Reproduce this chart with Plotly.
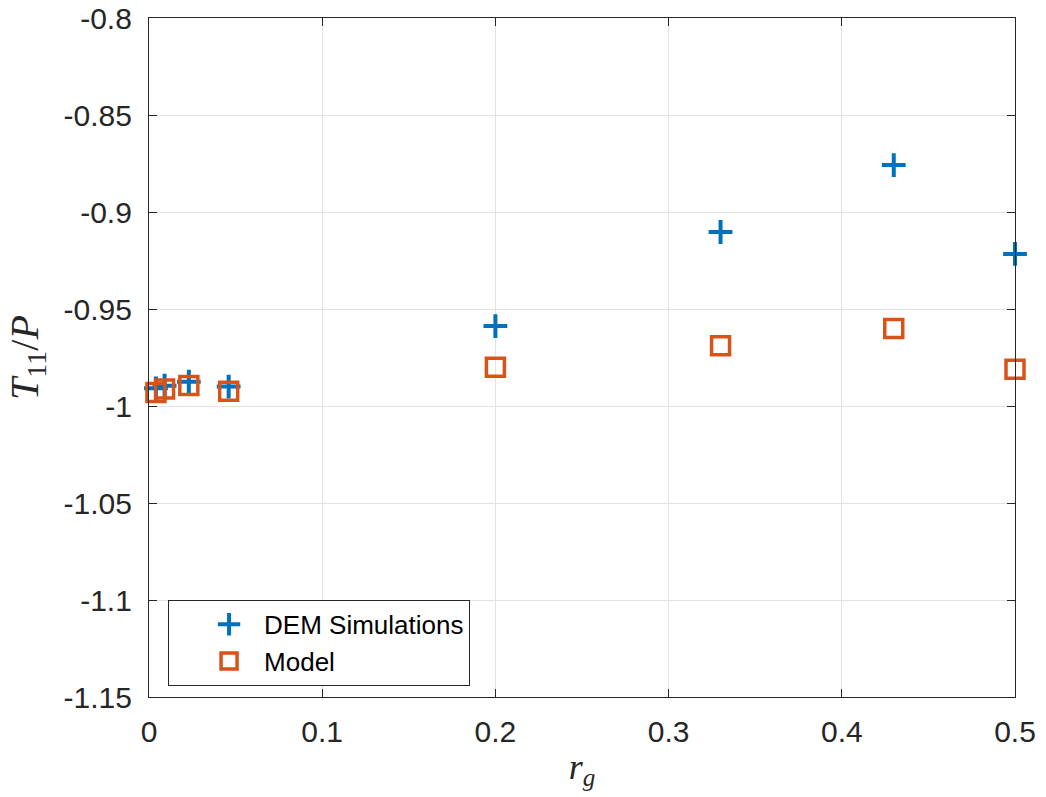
import plotly.graph_objects as go

rg = [0.004, 0.009, 0.023, 0.046, 0.2, 0.33, 0.43, 0.5]
dem = [-0.9909, -0.9895, -0.9875, -0.9900, -0.9588, -0.9103, -0.8758, -0.9216]
model = [-0.9930, -0.9912, -0.9894, -0.9924, -0.9800, -0.9690, -0.9600, -0.9810]

yticks = [-1.15, -1.1, -1.05, -1.0, -0.95, -0.9, -0.85, -0.8]
yticklabels = ["-1.15", "-1.1", "-1.05", "-1", "-0.95", "-0.9", "-0.85", "-0.8"]
xticks = [0, 0.1, 0.2, 0.3, 0.4, 0.5]
xticklabels = ["0", "0.1", "0.2", "0.3", "0.4", "0.5"]

fig = go.Figure()
fig.add_trace(go.Scatter(
    x=rg, y=dem, mode="markers", name="DEM Simulations",
    marker=dict(symbol="cross-thin", size=17, color="#0072BD",
                line=dict(color="#0072BD", width=4)),
    cliponaxis=False,
))
fig.add_trace(go.Scatter(
    x=rg, y=model, mode="markers", name="Model",
    marker=dict(symbol="square-open", size=18, color="#D95319",
                line=dict(color="#D95319", width=3.5)),
    cliponaxis=False,
))

tick_font = dict(family="Liberation Sans, Arial, sans-serif", size=30, color="#262626")
axis_common = dict(
    showline=True, linecolor="#262626", linewidth=1.2, mirror="ticks",
    ticks="inside", ticklen=8, tickcolor="#262626",
    showgrid=True, gridcolor="#E3E3E3", gridwidth=1, zeroline=False,
    tickfont=tick_font, automargin=False,
)

fig.update_layout(
    width=1046, height=797,
    margin=dict(l=149, r=31, t=18, b=100),
    paper_bgcolor="white", plot_bgcolor="white",
    xaxis=dict(range=[0, 0.5], tickvals=xticks, ticktext=xticklabels,
               ticklabelstandoff=8,
               title=dict(text="<i>r</i><sub><i>g</i></sub>",
                          font=dict(family="Liberation Serif, DejaVu Serif, serif", size=36, color="#262626"),
                          standoff=6),
               **axis_common),
    yaxis=dict(range=[-1.15, -0.8], tickvals=yticks, ticktext=yticklabels,
               ticklabelstandoff=10,
               title=dict(text="<i>T</i><sub>11</sub>/<i>P</i>",
                          font=dict(family="Liberation Serif, DejaVu Serif, serif", size=40, color="#262626"),
                          standoff=12),
               **axis_common),
    showlegend=True,
    legend=dict(x=0.022, y=0.143, xanchor="left", yanchor="top",
                bgcolor="white", bordercolor="#262626", borderwidth=1,
                font=dict(family="Liberation Sans, Arial, sans-serif", size=26, color="black"),
                itemwidth=60, indentation=25, tracegroupgap=0),
)

fig.write_html("out.html")
